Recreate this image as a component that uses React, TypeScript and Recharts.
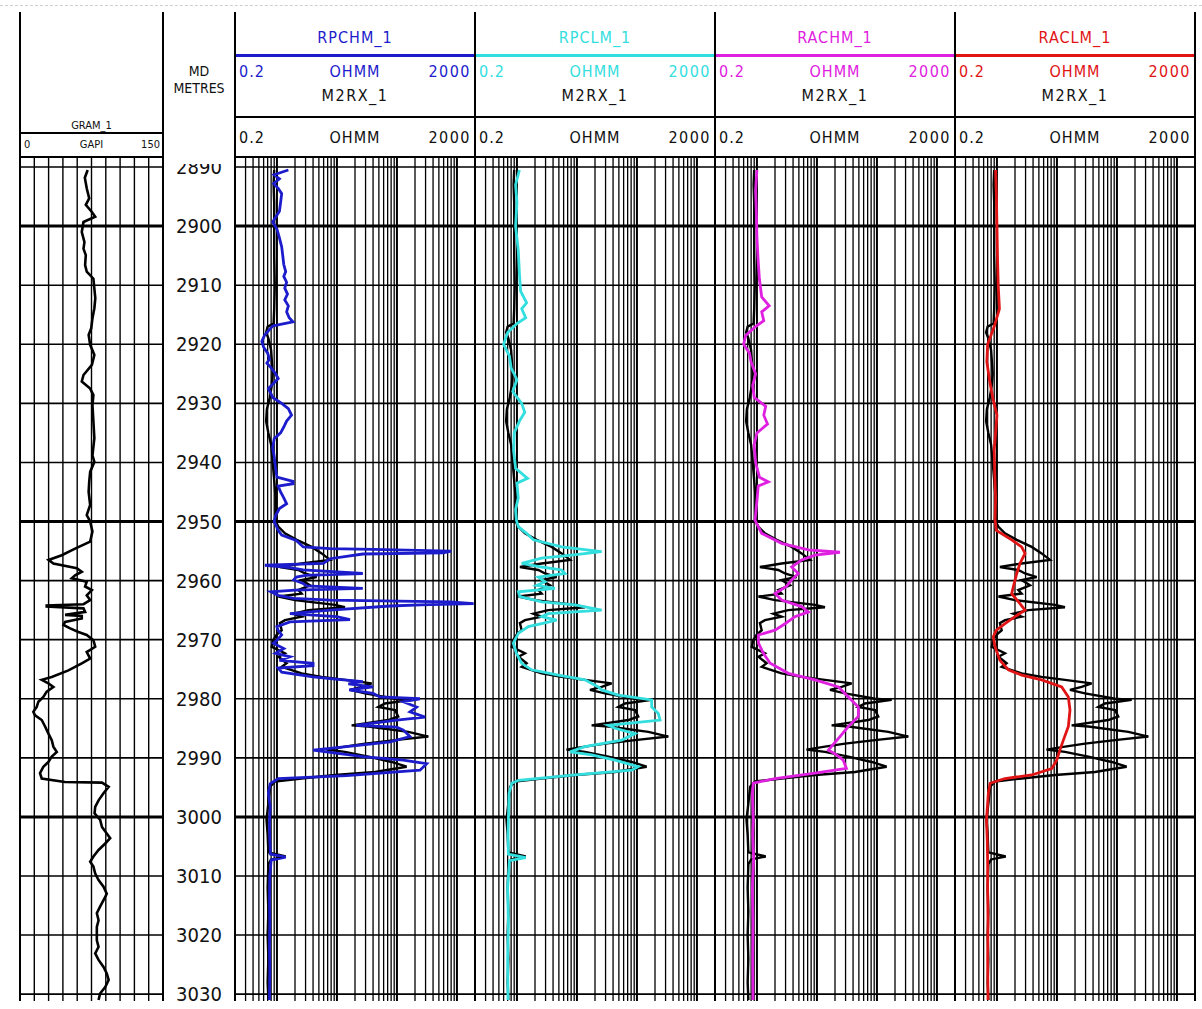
import React from 'react';
import { LineChart, Line, XAxis, YAxis, ReferenceLine } from 'recharts';

// depth window of the plotted body (metres)
const TOP_DEPTH = 2888.3;
const BOTTOM_DEPTH = 3031.16;

const depthTicks = [2890, 2900, 2910, 2920, 2930, 2940, 2950, 2960, 2970, 2980, 2990, 3000, 3010, 3020, 3030];
const heavyDepths = [2900, 2950, 3000];
const resGrid = [
  0.3, 0.4, 0.5, 0.6, 0.7, 0.8, 0.9, 1,
  2, 3, 4, 5, 6, 7, 8, 9, 10,
  20, 30, 40, 50, 60, 70, 80, 90, 100,
  200, 300, 400, 500, 600, 700, 800, 900, 1000,
];
const decadeLines = [1, 10, 100, 1000];
const grGrid = [15, 30, 45, 60, 75, 90, 105, 120, 135];

// [depth m, GAPI]
const GR_1 = [
  [2890.5, 71], [2891.8, 68], [2893.6, 70], [2895.3, 72.6], [2896.4, 69], [2897.6, 75.4], [2898.4, 78.9],
  [2899.3, 66.6], [2901.0, 64.8], [2902.7, 67.6], [2903.8, 66.6], [2904.9, 69], [2906.6, 68.3], [2907.7, 70],
  [2908.9, 77], [2910.6, 78], [2912.2, 79], [2913.9, 78], [2915.6, 76], [2917.3, 74.7], [2918.4, 72],
  [2920.1, 73.6], [2921.8, 78], [2923.5, 75.4], [2925.2, 66.6], [2926.3, 64.8], [2927.5, 73.6], [2928.6, 77],
  [2930.3, 76], [2933.1, 77], [2935.9, 78], [2938.8, 76], [2939.9, 78], [2941.6, 73.6], [2943.3, 72.6],
  [2945.0, 72], [2947.2, 73.6], [2948.9, 70], [2950.0, 73.6], [2951.7, 76], [2953.4, 73.6], [2954.6, 57.8],
  [2955.7, 43.8], [2956.5, 30], [2957.1, 35], [2957.9, 59.6], [2958.5, 64.8], [2959.1, 57.8], [2959.6, 54.3],
  [2960.2, 70], [2961.0, 68.3], [2961.6, 75.4], [2962.5, 70], [2963.3, 73.6], [2964.0, 66.6], [2964.2, 28],
  [2964.4, 28], [2964.7, 66.6], [2965.3, 68.3], [2965.8, 47.3], [2966.0, 64.8], [2966.4, 64.8], [2967.0, 47.3],
  [2967.5, 45.6], [2968.1, 52.6], [2968.7, 61.3], [2969.2, 70], [2970.1, 77], [2971.2, 78.9], [2972.1, 70],
  [2973.2, 73.6], [2974.0, 64.8], [2975.2, 50.8], [2976.3, 33.3], [2976.8, 22.8], [2977.4, 29.8], [2978.0, 35],
  [2978.8, 28], [2979.7, 24.5], [2980.5, 19.3], [2981.4, 17.5], [2982.2, 14], [2982.8, 15.8], [2983.6, 22.8],
  [2984.7, 26.3], [2985.9, 29.8], [2987.0, 33.3], [2988.1, 35], [2989.0, 38.6], [2989.8, 33.3], [2990.7, 29.8],
  [2991.5, 24.5], [2992.6, 21], [2993.5, 22.8], [2994.1, 47], [2994.2, 86], [2994.9, 93], [2996.0, 87.6],
  [2997.2, 82.4], [2998.3, 78.9], [2999.4, 78.2], [3000.5, 84.1], [3001.7, 86], [3002.8, 91], [3003.6, 94.6],
  [3004.5, 89.4], [3005.6, 82.4], [3006.7, 77], [3007.6, 73.6], [3008.4, 77], [3009.6, 78.9], [3010.7, 82.4],
  [3011.8, 87.6], [3013.0, 91], [3014.1, 87.6], [3015.2, 84], [3016.3, 80.6], [3017.5, 82.4], [3018.6, 80.6],
  [3019.7, 80.6], [3020.9, 80.6], [3022.0, 82.4], [3023.1, 78.9], [3024.2, 82.4], [3025.4, 87.6], [3026.5, 91],
  [3027.6, 93], [3028.8, 89.4], [3029.9, 84], [3031.0, 82.4],
];

// [depth m, OHMM] - shown in every resistivity track
const M2RX_1 = [
  [2890.5, 0.9], [2893, 0.88], [2896, 0.9], [2900, 0.9], [2905, 0.9], [2910, 0.92], [2914, 0.9], [2916.5, 0.88],
  [2917, 0.7], [2918, 0.66], [2919, 0.72], [2921, 0.8], [2925, 0.85], [2927, 0.82], [2929, 0.76], [2931, 0.68],
  [2933, 0.66], [2935, 0.72], [2937, 0.8], [2940, 0.85], [2943, 0.9], [2946, 0.95], [2948.5, 0.95], [2949.8, 0.93],
  [2950.9, 1.06], [2952.0, 1.36], [2953.1, 2.14], [2954.3, 3.79], [2955.4, 5.56], [2956.5, 7.66], [2957.1, 2.58],
  [2957.7, 1.12], [2958.2, 2.27], [2958.8, 2.94], [2959.4, 4.59], [2959.9, 2.58], [2960.8, 3.56], [2961.6, 2.27],
  [2962.2, 2.58], [2962.7, 1.06], [2963.3, 2.0], [2964.1, 9.28], [2964.5, 13.6], [2965.0, 3.34], [2965.6, 1.88],
  [2966.1, 2.58], [2966.7, 1.36], [2967.2, 1.12], [2968.4, 1.2], [2969.2, 0.98], [2970.1, 0.87], [2971.2, 0.82],
  [2972.3, 1.36], [2972.9, 1.06], [2974.0, 1.45], [2974.6, 1.2], [2975.7, 2.58], [2976.3, 5.56], [2976.8, 13.6],
  [2977.4, 37.9], [2978.0, 25.8], [2978.5, 16.5], [2979.1, 29.4], [2980.0, 92.8], [2980.2, 176], [2980.8, 63.2],
  [2981.4, 49], [2981.9, 92.8], [2983.0, 105], [2983.6, 71.9], [2984.5, 17.6], [2984.7, 33.4], [2985.6, 155],
  [2986.4, 334], [2987.0, 92.8], [2987.6, 29.4], [2988.1, 13.6], [2988.6, 6.7], [2989.0, 13.6], [2989.8, 33.4],
  [2990.7, 81.7], [2991.5, 145], [2992.4, 43.1], [2992.9, 9.28], [2993.5, 2.58], [2994.0, 0.93], [2994.9, 0.77],
  [2997.7, 0.72], [3000.5, 0.67], [3003, 0.7], [3006, 0.72], [3006.7, 1.4], [3007.2, 0.8], [3008, 0.72],
  [3012, 0.7], [3016, 0.72], [3020, 0.7], [3024, 0.72], [3028, 0.7], [3031, 0.72],
];

const RPCHM_1 = [
  [2890.5, 1.55], [2891.3, 0.9], [2892.0, 1.1], [2892.8, 0.88], [2893.6, 1.05], [2894.5, 1.2], [2896, 1.15],
  [2897.5, 1.1], [2898.5, 0.95], [2899.3, 0.85], [2900.5, 1.0], [2902, 1.1], [2903.5, 1.2], [2905, 1.25],
  [2906.5, 1.3], [2907.7, 1.4], [2908.5, 1.3], [2909.5, 1.45], [2910.5, 1.35], [2911.5, 1.5], [2912.5, 1.35],
  [2913.5, 1.55], [2914.5, 1.45], [2915.5, 1.6], [2916.2, 1.85], [2916.6, 1.2], [2916.9, 0.85], [2917.5, 0.75],
  [2918.5, 0.62], [2919.5, 0.56], [2920.5, 0.6], [2921.5, 0.7], [2922.5, 0.75], [2923.2, 0.68], [2924, 0.8],
  [2925, 0.95], [2925.8, 1.05], [2926.5, 0.9], [2927.5, 0.72], [2928.2, 0.78], [2929, 0.85], [2930, 1.2],
  [2930.9, 1.55], [2932, 1.75], [2933, 1.45], [2934, 1.3], [2935, 1.15], [2936, 0.9], [2937.5, 0.85],
  [2939, 0.9], [2941, 0.95], [2942.5, 1.0], [2943.2, 1.85], [2943.6, 1.85], [2944, 1.05], [2945, 1.15],
  [2946, 1.3], [2947, 1.45], [2947.8, 1.1], [2949, 0.95], [2950, 0.9], [2951, 1.0], [2951.5, 1.05],
  [2952.3, 1.2], [2953.2, 2.1], [2954.3, 2.75], [2954.6, 7.7], [2954.7, 40], [2955.0, 800], [2955.3, 590],
  [2955.5, 27], [2956.3, 7.7], [2957.1, 5.9], [2957.4, 0.63], [2957.8, 1.65], [2958.2, 2.75], [2958.8, 27],
  [2959.1, 3], [2959.4, 2.1], [2959.9, 1.9], [2960.5, 2.75], [2960.9, 3.1], [2961.3, 27], [2961.6, 2],
  [2961.9, 0.8], [2962.5, 1.05], [2963.0, 1.9], [2963.3, 7.7], [2963.6, 770], [2963.9, 1900], [2964.1, 250],
  [2964.3, 77], [2965.0, 7.7], [2965.6, 1.65], [2966.1, 9.9], [2966.6, 16.5], [2967.0, 1.65], [2967.8, 1.0],
  [2968.4, 1.05], [2969.2, 1.2], [2970.1, 1.0], [2970.6, 0.87], [2971.5, 1.3], [2972.3, 0.95], [2972.9, 1.65],
  [2973.5, 1.1], [2974.0, 4.0], [2974.4, 4.0], [2974.8, 1.05], [2975.5, 1.2], [2976.3, 4.0], [2976.6, 7.7],
  [2977.1, 27], [2977.5, 15.5], [2978.0, 40], [2978.5, 16], [2979.1, 40], [2979.7, 52], [2980.0, 242],
  [2980.5, 128], [2981.4, 213], [2982.2, 165], [2983.1, 294], [2983.6, 99], [2984.5, 21], [2984.8, 99],
  [2985.3, 128], [2986.4, 165], [2987.3, 77], [2988.1, 14.5], [2988.7, 4.0], [2989.3, 11.2], [2989.8, 27],
  [2990.4, 128], [2991.0, 313], [2992.1, 242], [2993.0, 14.5], [2993.5, 1.05], [2994.4, 0.77], [2996, 0.72],
  [2998.3, 0.77], [3001, 0.75], [3004, 0.76], [3006.3, 0.78], [3006.8, 1.4], [3007.3, 0.8], [3010, 0.76],
  [3014, 0.75], [3018, 0.76], [3022, 0.75], [3026, 0.76], [3031, 0.75],
];

const RPCLM_1 = [
  [2890.5, 1.1], [2893, 0.95], [2896, 1.0], [2900, 0.95], [2904, 1.05], [2908, 1.1], [2911, 1.15], [2913, 1.45],
  [2914, 1.2], [2915.5, 1.4], [2916.5, 1.0], [2918, 0.7], [2920, 0.6], [2922, 0.75], [2924, 0.8], [2926, 1.0],
  [2928, 0.85], [2930, 1.2], [2931.5, 1.35], [2933, 1.1], [2935, 0.9], [2938, 0.88], [2941, 0.95], [2942.7, 1.5],
  [2943.5, 1.0], [2946, 1.05], [2948, 0.95], [2949.8, 0.98], [2950.9, 1.06], [2952.0, 1.45], [2953.1, 1.88],
  [2954.3, 5.56], [2955.1, 25.8], [2955.7, 8.2], [2956.2, 2.58], [2957.1, 1.2], [2957.7, 2.58], [2958.2, 5.56],
  [2958.8, 6.32], [2959.4, 2.27], [2960.2, 2.94], [2960.8, 2.14], [2961.3, 4.3], [2961.9, 1.06], [2962.7, 1.12],
  [2963.6, 2.58], [2964.1, 9.28], [2965.0, 25.8], [2965.6, 3.34], [2966.1, 2.58], [2966.7, 4.59], [2967.3, 2.58],
  [2967.8, 1.55], [2968.9, 1.06], [2970.6, 0.87], [2972.3, 0.98], [2974.0, 1.2], [2975.1, 1.76], [2976.0, 4.9],
  [2976.8, 13.6], [2978.0, 22.7], [2978.5, 25.8], [2979.4, 49], [2980.2, 176], [2981.4, 176], [2982.5, 227],
  [2983.6, 243], [2984.5, 33.4], [2985.0, 43.1], [2985.9, 92.8], [2987.0, 55.7], [2988.1, 13.6], [2989.0, 7.66],
  [2989.5, 17.6], [2990.4, 43.1], [2991.5, 105], [2992.1, 81.7], [2992.9, 9.28], [2993.8, 1.06], [2994.3, 0.82],
  [2996.0, 0.74], [3000.5, 0.72], [3003, 0.71], [3006.3, 0.72], [3006.9, 1.4], [3007.4, 0.75], [3012, 0.7],
  [3018, 0.72], [3024, 0.7], [3031, 0.71],
];

const RACHM_1 = [
  [2890.5, 1.0], [2894, 0.95], [2898, 0.98], [2902, 1.0], [2906, 1.05], [2909, 1.1], [2912, 1.2], [2913.5, 1.6],
  [2914.5, 1.2], [2916, 1.3], [2917, 0.95], [2918.5, 0.65], [2920, 0.6], [2921.5, 0.75], [2923, 0.8], [2925, 0.95],
  [2927, 0.85], [2929, 0.9], [2930.5, 1.4], [2932, 1.3], [2933.5, 1.5], [2935, 1.0], [2937, 0.9], [2940, 0.95],
  [2942.5, 1.1], [2943.3, 1.55], [2944, 1.05], [2946.5, 1.0], [2949.8, 0.93], [2952.0, 1.2], [2953.7, 2.58],
  [2954.8, 7.2], [2955.2, 24.2], [2955.7, 9.28], [2956.5, 5.56], [2957.7, 3.79], [2958.8, 4.9], [2959.9, 3.79],
  [2961.0, 3.1], [2962.2, 2.0], [2963.3, 2.58], [2964.4, 5.56], [2965.3, 7.2], [2966.1, 4.3], [2967.3, 2.94],
  [2968.4, 2.0], [2969.2, 1.06], [2970.6, 1.06], [2972.3, 1.28], [2974.0, 1.66], [2975.7, 3.34], [2976.8, 9.28],
  [2978.0, 22.8], [2979.7, 33.4], [2981.4, 49], [2983.0, 49], [2984.7, 33.4], [2986.4, 24.2], [2988.7, 15.5],
  [2989.3, 20], [2990.4, 27.4], [2991.8, 31], [2992.6, 9.28], [2993.5, 2.0], [2994.3, 0.87], [2996.0, 0.84],
  [3000.5, 0.87], [3003, 0.85], [3007, 0.88], [3012, 0.84], [3018, 0.86], [3024, 0.85], [3031, 0.86],
];

const RACLM_1 = [
  [2890.5, 0.95], [2895, 0.98], [2900, 1.0], [2905, 1.02], [2910, 1.05], [2914, 1.1], [2917, 0.9], [2920, 0.7],
  [2923, 0.68], [2926, 0.75], [2929, 0.85], [2932, 1.0], [2935, 0.95], [2938, 0.9], [2942, 0.92], [2946, 0.95],
  [2949.8, 0.93], [2951.5, 0.98], [2953.1, 1.76], [2954.3, 2.58], [2955.4, 2.94], [2957.1, 2.42], [2958.8, 2.14],
  [2961.0, 1.88], [2962.2, 1.76], [2963.9, 2.42], [2965.0, 2.94], [2966.1, 2.0], [2967.3, 1.36], [2968.4, 0.98],
  [2969.5, 0.87], [2971.2, 0.93], [2973.5, 1.12], [2975.1, 1.55], [2976.0, 2.58], [2976.8, 5.56], [2978.0, 12],
  [2979.7, 15.5], [2981.9, 16.5], [2984.7, 15.5], [2987.0, 12.8], [2988.7, 11.2], [2990.4, 9.9], [2991.8, 8.2],
  [2992.9, 3.79], [2993.5, 1.36], [2994.3, 0.77], [2996.0, 0.72], [3000.5, 0.67], [3004, 0.69], [3008, 0.7],
  [3012, 0.7], [3018, 0.71], [3024, 0.7], [3031, 0.71],
];

const tracks = [
  { name: 'RPCHM_1', color: '#1c1ccc', curve: RPCHM_1, left: 235 },
  { name: 'RPCLM_1', color: '#33dede', curve: RPCLM_1, left: 475 },
  { name: 'RACHM_1', color: '#e020e0', curve: RACHM_1, left: 715 },
  { name: 'RACLM_1', color: '#e01414', curve: RACLM_1, left: 955 },
];

const BODY_TOP = 157;
const BODY_H = 844;
const TRACK_W = 240;
const FONT = "'Liberation Sans Narrow', 'DejaVu Sans Condensed', 'Liberation Sans', Arial, sans-serif";

const rows = (pts: number[][]) => pts.map(([depth, v]) => ({ depth, v }));

function Txt({ x, y, w, align = 'center', color = '#111', size = 15, spacing = 0, children }: any) {
  return (
    <div
      style={{
        position: 'absolute', left: x, top: y - size / 2, width: w, height: size, lineHeight: `${size}px`,
        textAlign: align, color, fontSize: size, letterSpacing: spacing, whiteSpace: 'nowrap', fontFamily: FONT,
      }}
    >
      {children}
    </div>
  );
}

function HLine({ x, y, w, h = 2, color = '#000' }: any) {
  return <div style={{ position: 'absolute', left: x, top: y, width: w, height: h, background: color }} />;
}

function VLine({ x, y, h, w = 2 }: any) {
  return <div style={{ position: 'absolute', left: x - w / 2, top: y, width: w, height: h, background: '#000' }} />;
}

function DepthTick(props: any) {
  const { x, y, payload } = props;
  return (
    <text x={x + 28} y={y} dy={7} textAnchor="middle" fontSize={20} fill="#111" fontFamily={FONT}>
      {payload.value}
    </text>
  );
}

function depthLines() {
  return depthTicks.map((d) => (
    <ReferenceLine
      key={'d' + d}
      y={d}
      stroke="#000"
      strokeWidth={heavyDepths.includes(d) ? 3 : 1.6}
    />
  ));
}

function GammaTrack() {
  return (
    <div style={{ position: 'absolute', left: 20, top: BODY_TOP }}>
      <LineChart layout="vertical" width={215} height={BODY_H} margin={{ top: 0, right: 0, bottom: 0, left: 0 }}>
        <XAxis type="number" domain={[0, 150]} hide allowDataOverflow />
        <YAxis
          type="number"
          dataKey="depth"
          orientation="right"
          width={72}
          domain={[TOP_DEPTH, BOTTOM_DEPTH]}
          allowDataOverflow
          ticks={depthTicks}
          interval={0}
          axisLine={false}
          tickLine={false}
          tick={<DepthTick />}
        />
        {grGrid.map((v) => (
          <ReferenceLine key={'g' + v} x={v} stroke="#000" strokeWidth={1.4} />
        ))}
        {depthLines()}
        <Line data={rows(GR_1)} dataKey="v" stroke="#000" strokeWidth={2.6} dot={false} isAnimationActive={false} />
      </LineChart>
    </div>
  );
}

function ResTrack({ left, color, curve }: any) {
  return (
    <div style={{ position: 'absolute', left, top: BODY_TOP }}>
      <LineChart layout="vertical" width={TRACK_W} height={BODY_H} margin={{ top: 0, right: 0, bottom: 0, left: 0 }}>
        <XAxis type="number" scale="log" domain={[0.2, 2000]} hide allowDataOverflow />
        <YAxis type="number" dataKey="depth" domain={[TOP_DEPTH, BOTTOM_DEPTH]} hide allowDataOverflow />
        {resGrid.map((v) => (
          <ReferenceLine key={'r' + v} x={v} stroke="#000" strokeWidth={decadeLines.includes(v) ? 2 : 1.3} />
        ))}
        {depthLines()}
        <Line data={rows(M2RX_1)} dataKey="v" stroke="#000" strokeWidth={2.4} dot={false} isAnimationActive={false} />
        <Line data={rows(curve)} dataKey="v" stroke={color} strokeWidth={2.8} dot={false} isAnimationActive={false} />
      </LineChart>
    </div>
  );
}

export default function App() {
  const bodyBottom = BODY_TOP + BODY_H;
  return (
    <div style={{ position: 'absolute', left: 0, top: 0, width: 1202, height: 1009, background: '#fff', overflow: 'hidden', fontFamily: FONT }}>
      <style>{'.recharts-surface{overflow:visible}'}</style>
      <div style={{ position: 'absolute', left: 0, top: 5, width: 1202, borderTop: '1px dashed #cfcfcf' }} />

      <GammaTrack />
      {tracks.map((t) => (
        <ResTrack key={t.name} left={t.left} color={t.color} curve={t.curve} />
      ))}

      {/* mask the clipped top depth label */}
      <div style={{ position: 'absolute', left: 165, top: 120, width: 68, height: 44, background: '#fff' }} />

      {/* gamma header */}
      <Txt x={20} y={125} w={143} size={11}>GRAM_1</Txt>
      <HLine x={20} y={132} w={143} />
      <Txt x={24} y={144} w={40} align="left" size={11}>0</Txt>
      <Txt x={20} y={144} w={143} size={11}>GAPI</Txt>
      <Txt x={110} y={144} w={50} align="right" size={11}>150</Txt>
      <HLine x={20} y={BODY_TOP - 1} w={143} />

      {/* depth header */}
      <Txt x={163} y={71} w={72} size={14}>MD</Txt>
      <Txt x={163} y={88} w={72} size={14}>METRES</Txt>

      {/* resistivity headers */}
      {tracks.map((t) => (
        <React.Fragment key={'h' + t.name}>
          <Txt x={t.left} y={38} w={TRACK_W} color={t.color} size={16} spacing={1}>{t.name}</Txt>
          <HLine x={t.left} y={54} w={TRACK_W} h={3} color={t.color} />
          <Txt x={t.left + 4} y={72} w={60} align="left" color={t.color} size={16} spacing={1}>0.2</Txt>
          <Txt x={t.left} y={72} w={TRACK_W} color={t.color} size={16} spacing={1}>OHMM</Txt>
          <Txt x={t.left + TRACK_W - 64} y={72} w={60} align="right" color={t.color} size={16} spacing={1.5}>2000</Txt>
          <Txt x={t.left} y={96} w={TRACK_W} size={16} spacing={1.5}>M2RX_1</Txt>
          <HLine x={t.left} y={116} w={TRACK_W} />
          <Txt x={t.left + 4} y={138} w={60} align="left" size={16} spacing={1}>0.2</Txt>
          <Txt x={t.left} y={138} w={TRACK_W} size={16} spacing={1}>OHMM</Txt>
          <Txt x={t.left + TRACK_W - 64} y={138} w={60} align="right" size={16} spacing={1.5}>2000</Txt>
          <HLine x={t.left} y={BODY_TOP - 1} w={TRACK_W} />
        </React.Fragment>
      ))}

      {/* track borders */}
      {[20, 163, 235, 475, 715, 955, 1195].map((x) => (
        <VLine key={'v' + x} x={x} y={12} h={bodyBottom - 12} />
      ))}
    </div>
  );
}
